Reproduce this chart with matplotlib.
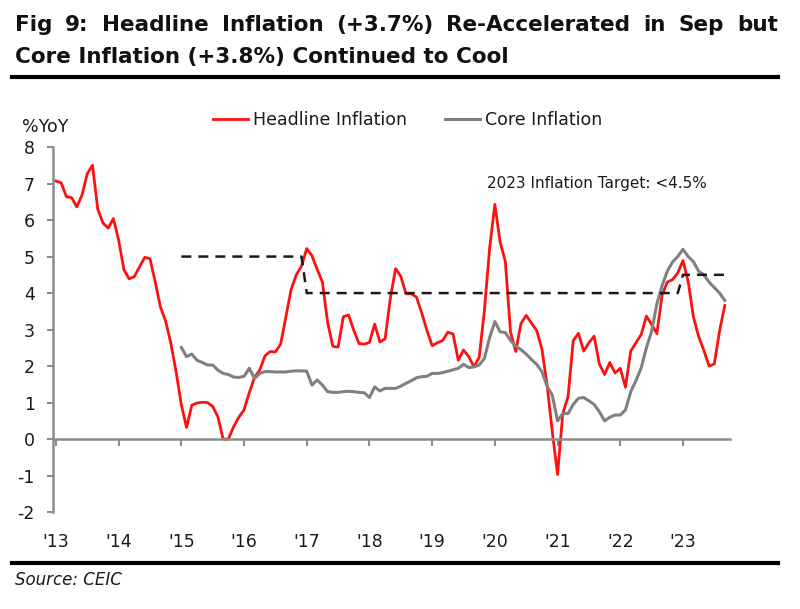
import numpy as np
import matplotlib.pyplot as plt
from matplotlib.lines import Line2D

plt.rcParams['font.family'] = ['DejaVu Sans']
plt.rcParams['axes.unicode_minus'] = False

# monthly series, Jan 2013 - Sep 2023 (headline) and Jan 2015 - Sep 2023 (core, target)
year_labels = ["'13", "'14", "'15", "'16", "'17", "'18", "'19", "'20", "'21", "'22", "'23"]

headline = [
    7.07, 7.02, 6.64, 6.61, 6.36, 6.69, 7.27, 7.50, 6.30, 5.92, 5.78, 6.04,  # 2013
    5.45, 4.65, 4.39, 4.45, 4.72, 4.98, 4.94, 4.31, 3.62, 3.23, 2.62, 1.84,  # 2014
    0.94, 0.32, 0.93, 0.99, 1.01, 1.00, 0.90, 0.61, 0.00, 0.00, 0.34, 0.60,  # 2015
    0.80, 1.27, 1.69, 1.89, 2.28, 2.40, 2.39, 2.60, 3.34, 4.09, 4.50, 4.74,  # 2016
    5.22, 5.02, 4.65, 4.30, 3.19, 2.54, 2.52, 3.35, 3.40, 2.98, 2.62, 2.60,  # 2017
    2.65, 3.15, 2.66, 2.75, 3.86, 4.67, 4.46, 3.98, 3.98, 3.89, 3.46, 2.98,  # 2018
    2.56, 2.64, 2.70, 2.93, 2.88, 2.16, 2.44, 2.26, 1.98, 2.24, 3.52, 5.23,  # 2019
    6.43, 5.40, 4.87, 2.93, 2.40, 3.17, 3.39, 3.18, 2.98, 2.47, 1.48, 0.19,  # 2020
    -0.97, 0.70, 1.16, 2.70, 2.90, 2.41, 2.64, 2.82, 2.06, 1.77, 2.10, 1.81,  # 2021
    1.94, 1.42, 2.41, 2.64, 2.86, 3.37, 3.14, 2.89, 3.94, 4.30, 4.37, 4.55,  # 2022
    4.89, 4.31, 3.35, 2.81, 2.43, 2.00, 2.06, 2.96, 3.66,                    # 2023
]

core = [
    2.51, 2.26, 2.33, 2.16, 2.10, 2.03, 2.03, 1.89, 1.80, 1.77, 1.70, 1.69,  # 2015
    1.72, 1.94, 1.66, 1.80, 1.85, 1.85, 1.84, 1.84, 1.84, 1.86, 1.87, 1.87,  # 2016
    1.86, 1.48, 1.62, 1.48, 1.30, 1.28, 1.28, 1.30, 1.31, 1.30, 1.28, 1.27,  # 2017
    1.14, 1.43, 1.32, 1.39, 1.39, 1.39, 1.45, 1.53, 1.60, 1.68, 1.71, 1.72,  # 2018
    1.80, 1.80, 1.82, 1.86, 1.90, 1.94, 2.05, 1.96, 1.98, 2.03, 2.21, 2.78,  # 2019
    3.22, 2.94, 2.92, 2.70, 2.55, 2.45, 2.33, 2.18, 2.05, 1.85, 1.45, 1.20,  # 2020
    0.50, 0.70, 0.70, 0.95, 1.12, 1.14, 1.05, 0.95, 0.75, 0.50, 0.60, 0.66,  # 2021
    0.66, 0.80, 1.30, 1.60, 1.95, 2.50, 2.95, 3.70, 4.20, 4.60, 4.85, 5.00,  # 2022
    5.20, 5.00, 4.86, 4.60, 4.50, 4.30, 4.15, 4.00, 3.80,                    # 2023
]

target = [
    5.0, 5.0, 5.0, 5.0, 5.0, 5.0, 5.0, 5.0, 5.0, 5.0, 5.0, 5.0,  # 2015
    5.0, 5.0, 5.0, 5.0, 5.0, 5.0, 5.0, 5.0, 5.0, 5.0, 5.0, 5.0,  # 2016
    4.0, 4.0, 4.0, 4.0, 4.0, 4.0, 4.0, 4.0, 4.0, 4.0, 4.0, 4.0,  # 2017
    4.0, 4.0, 4.0, 4.0, 4.0, 4.0, 4.0, 4.0, 4.0, 4.0, 4.0, 4.0,  # 2018
    4.0, 4.0, 4.0, 4.0, 4.0, 4.0, 4.0, 4.0, 4.0, 4.0, 4.0, 4.0,  # 2019
    4.0, 4.0, 4.0, 4.0, 4.0, 4.0, 4.0, 4.0, 4.0, 4.0, 4.0, 4.0,  # 2020
    4.0, 4.0, 4.0, 4.0, 4.0, 4.0, 4.0, 4.0, 4.0, 4.0, 4.0, 4.0,  # 2021
    4.0, 4.0, 4.0, 4.0, 4.0, 4.0, 4.0, 4.0, 4.0, 4.0, 4.0, 4.0,  # 2022
    4.5, 4.5, 4.5, 4.5, 4.5, 4.5, 4.5, 4.5, 4.5,                 # 2023
]

x_head = np.arange(len(headline))
x_core = np.arange(24, 24 + len(core))
x_target = np.arange(24, 24 + len(target))

txt = '#1a1a1a'
axis_grey = '#8c8c8c'

fig = plt.figure(figsize=(8, 6.09), dpi=100)
ax = fig.add_axes([0.066, 0.159, 0.8465, 0.5996])

l_head, = ax.plot(x_head, headline, color='#ff1010', lw=2.0, label='Headline Inflation')
l_core, = ax.plot(x_core, core, color='#808080', lw=2.2, label='Core Inflation')
ax.plot(x_target, target, color='#1a1a1a', lw=1.8, ls=(0, (4, 2.8)))

ax.set_xlim(-0.6, 129)
ax.set_ylim(-2, 8)
ax.set_yticks(range(-2, 9))
ax.tick_params(axis='y', length=4, width=1.5, color=axis_grey, labelsize=12.5,
               labelcolor=txt, pad=9)

for s in ['top', 'right']:
    ax.spines[s].set_visible(False)
for s in ['left', 'bottom']:
    ax.spines[s].set_color(axis_grey)
    ax.spines[s].set_linewidth(1.8)
ax.spines['bottom'].set_position(('data', 0))

ticks = np.arange(0, 121, 12)
ax.set_xticks(ticks)
ax.tick_params(axis='x', length=5, width=1.5, color=axis_grey, labelbottom=False)

sec = ax.secondary_xaxis('bottom')
sec.set_xticks(ticks, labels=year_labels)
sec.tick_params(length=0, pad=15, labelsize=12.5, labelcolor=txt)
sec.spines['bottom'].set_visible(False)

ax.text(103.6, 7.0, '2023 Inflation Target: <4.5%', ha='center', va='center',
        fontsize=11, color=txt)

fig.text(0.028, 1 - 127 / 609, '%YoY', ha='left', va='center', fontsize=12.5, color=txt)

fig.legend(handles=[l_head, l_core], loc='center', bbox_to_anchor=(0.51, 1 - 120 / 609),
           ncol=2, frameon=False, fontsize=12.5, handlelength=2.0, handletextpad=0.3,
           columnspacing=2.2, labelcolor=txt)

# title, first line justified across the width
line1 = "Fig 9: Headline Inflation (+3.7%) Re-Accelerated in Sep but".split()
x0, x1 = 15 / 800, 778 / 800
renderer = fig.canvas.get_renderer()
pieces = [fig.text(0, 1 - 25 / 609, w, fontsize=15.5, fontweight='bold', color='#111111',
                   va='center') for w in line1]
widths = [p.get_window_extent(renderer).width / fig.bbox.width for p in pieces]
gap = (x1 - x0 - sum(widths)) / (len(pieces) - 1)
pos = x0
for p, w in zip(pieces, widths):
    p.set_x(pos)
    pos += w + gap
fig.text(x0, 1 - 57 / 609, "Core Inflation (+3.8%) Continued to Cool", fontsize=15.5,
         fontweight='bold', color='#111111', va='center')

fig.add_artist(Line2D([0.015, 0.9725], [1 - 77 / 609] * 2, color='black', lw=3))
fig.add_artist(Line2D([0.015, 0.9725], [1 - 563 / 609] * 2, color='black', lw=3))

fig.text(x0, 1 - 580 / 609, 'Source: CEIC', fontsize=12, style='italic', color=txt,
         va='center')

fig.savefig('out.png', dpi=100)
